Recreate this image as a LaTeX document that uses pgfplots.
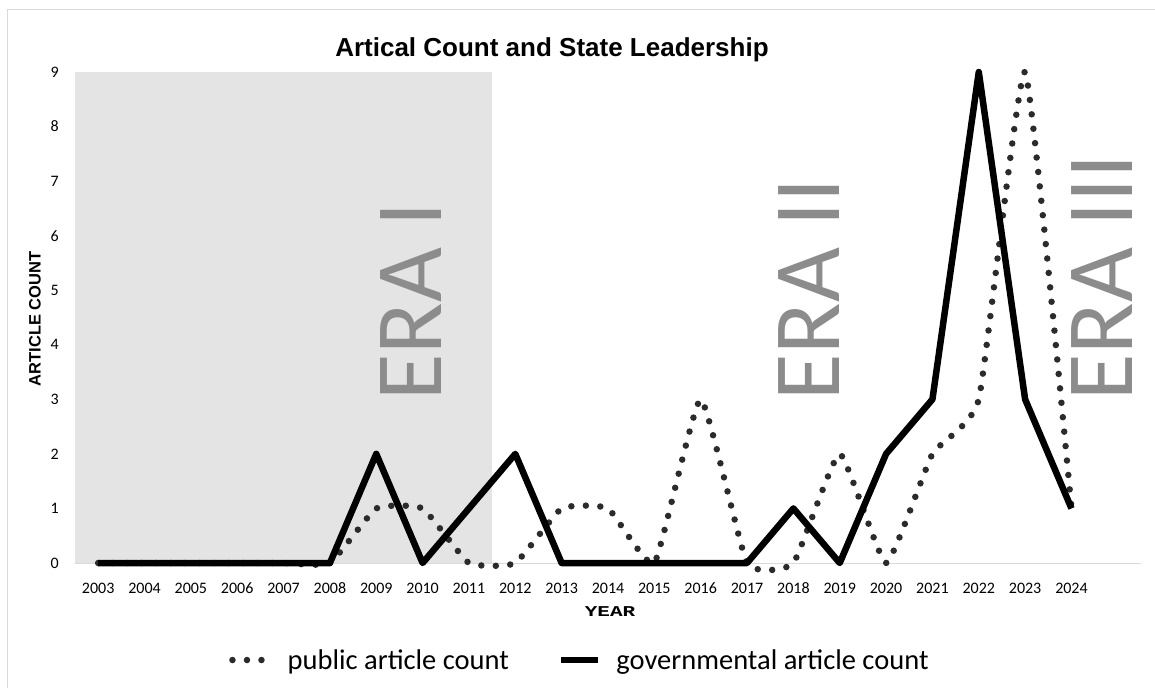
\documentclass[border=0pt]{standalone}
\usepackage{pgfplots}
\pgfplotsset{compat=1.18}
\usepackage{fontspec}
\setmainfont{Carlito}
\newfontfamily\titlefont{Liberation Sans}
\newfontfamily\yearfont{Liberation Mono}
\definecolor{eragray}{HTML}{8C8C8C}
\definecolor{eraonefill}{HTML}{E4E4E4}
\definecolor{framegray}{HTML}{D9D9D9}
\definecolor{dotline}{HTML}{2B2B2B}

\begin{document}
\begin{tikzpicture}[x=1pt,y=1pt]
\useasboundingbox (0,0) rectangle (1155,688);
% chart frame
\draw[framegray, line width=1pt] (7,0) -- (7,678) -- (1155,678);
% titles
\node[font=\titlefont\bfseries\fontsize{26}{30}\selectfont, anchor=base] at (552,631) {Artical Count and State Leadership};
\node[font=\titlefont\bfseries\fontsize{16.5}{19}\selectfont, rotate=90] at (35,369) {ARTICLE COUNT};
\node[font=\yearfont\bfseries\fontsize{15}{18}\selectfont, xscale=1.4] at (610,76) {YEAR};

\begin{axis}[
  at={(75pt,125pt)}, anchor=south west,
  scale only axis, width=1066pt, height=491pt,
  xmin=-0.5, xmax=22.5, ymin=0, ymax=9,
  clip=false,
  axis line style={draw=none},
  xtick={0,...,21},
  xticklabels={2003,2004,2005,2006,2007,2008,2009,2010,2011,2012,2013,2014,2015,2016,2017,2018,2019,2020,2021,2022,2023,2024},
  ytick={0,...,9},
  major tick length=0pt,
  tick label style={font=\fontsize{16}{19}\selectfont, /pgf/number format/assume math mode=true},
  xticklabel style={anchor=base, inner sep=0pt, yshift=-30pt},
  yticklabel style={anchor=east, inner sep=0pt, xshift=-16pt},
  legend columns=2,
  legend style={draw=none, fill=none, inner sep=0pt,
    at={(axis description cs:0.1445,-0.1976)}, anchor=west,
    font=\fontsize{28.5}{34}\selectfont,
    nodes={inner sep=0pt},
    /tikz/every odd column/.style={column sep=15pt},
    /tikz/every even column/.style={column sep=49pt}},
  legend image code/.code={\draw[#1] (0pt,0pt) -- (37pt,0pt);},
]
% shaded first era
\fill[eraonefill] (axis cs:-0.5,0) rectangle (axis cs:8.5,9);
% baseline
\draw[framegray, line width=1pt] (axis cs:-0.5,0) -- (axis cs:22.5,0);
% era labels
\node[rotate=90, anchor=base west, inner sep=0pt, text=eragray, font=\fontsize{95}{100}\selectfont] at (axis cs:7.40,2.97) {ERA I};
\node[rotate=90, anchor=base west, inner sep=0pt, text=eragray, font=\fontsize{95}{100}\selectfont] at (axis cs:16.0,2.97) {ERA II};
\node[rotate=90, anchor=base west, inner sep=0pt, text=eragray, font=\fontsize{95}{100}\selectfont] at (axis cs:22.31,2.97) {ERA III};

\addplot[dotline, line width=6.5pt, line cap=round, dash pattern=on 0pt off 14.5pt, smooth, tension=0.25]
  coordinates {(0,0)(1,0)(2,0)(3,0)(4,0)(5,0)(6,1)(7,1)(8,0)(9,0)(10,1)(11,1)(12,0)(13,3)(14,0)(15,0)(16,2)(17,0)(18,2)(19,3)(20,9)(21,1)};
\addlegendentry{public article count}

\addplot[black, line width=6.5pt, line join=round]
  coordinates {(0,0)(1,0)(2,0)(3,0)(4,0)(5,0)(6,2)(7,0)(8,1)(9,2)(10,0)(11,0)(12,0)(13,0)(14,0)(15,1)(16,0)(17,2)(18,3)(19,9)(20,3)(21,1)};
\addlegendentry{governmental article count}
\end{axis}
\end{tikzpicture}
\end{document}
